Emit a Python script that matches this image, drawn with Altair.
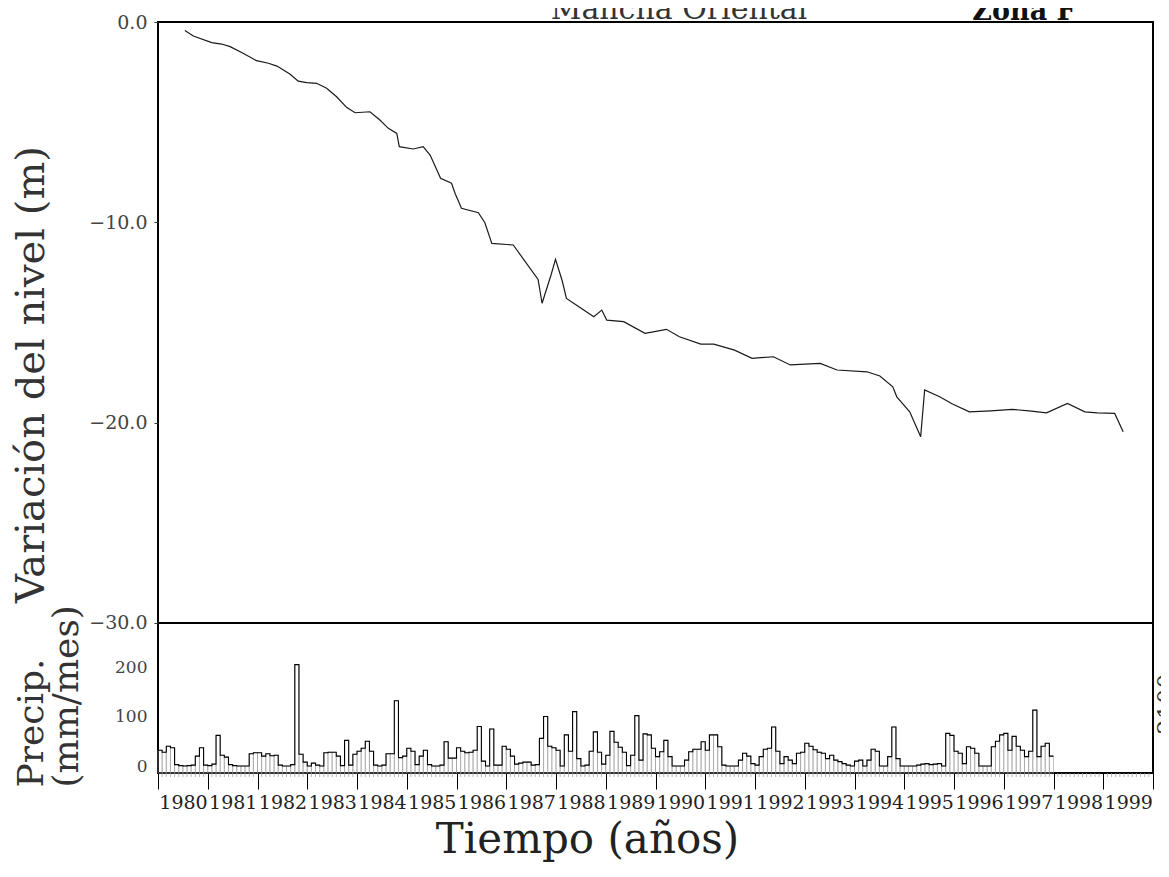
import altair as alt
import pandas as pd

# ---------------- data ----------------
# Water-level variation (m), fractional year
nivel_t = [1980.54, 1980.71, 1981.08, 1981.28, 1981.45, 1981.71, 1981.98, 1982.22, 1982.39,
           1982.65, 1982.82, 1982.99, 1983.19, 1983.39, 1983.59, 1983.79, 1983.96, 1984.26,
           1984.46, 1984.63, 1984.80, 1984.85, 1985.13, 1985.33, 1985.47, 1985.68, 1985.90,
           1985.97, 1986.10, 1986.44, 1986.57, 1986.71, 1987.14, 1987.64, 1987.72, 1987.90,
           1987.99, 1988.12, 1988.21, 1988.46, 1988.76, 1988.92, 1989.02, 1989.36, 1989.79,
           1990.22, 1990.48, 1990.91, 1991.17, 1991.59, 1991.94, 1992.37, 1992.71, 1993.31,
           1993.65, 1994.25, 1994.51, 1994.77, 1994.85, 1995.11, 1995.33, 1995.41, 1995.71,
           1995.97, 1996.31, 1996.74, 1997.17, 1997.51, 1997.86, 1998.28, 1998.63, 1998.88,
           1999.23, 1999.40]
nivel_v = [-0.43, -0.70, -1.03, -1.10, -1.23, -1.56, -1.93, -2.06, -2.20,
           -2.60, -2.95, -3.03, -3.06, -3.31, -3.73, -4.26, -4.53, -4.48,
           -4.89, -5.31, -5.56, -6.22, -6.34, -6.22, -6.64, -7.80, -8.05,
           -8.55, -9.30, -9.52, -10.02, -11.05, -11.13, -12.85, -14.04, -12.63,
           -11.85, -12.88, -13.80, -14.21, -14.71, -14.38, -14.88, -14.96, -15.54,
           -15.34, -15.71, -16.08, -16.08, -16.38, -16.79, -16.71, -17.12, -17.04,
           -17.37, -17.46, -17.67, -18.21, -18.71, -19.46, -20.70, -18.37, -18.71,
           -19.07, -19.46, -19.41, -19.34, -19.41, -19.51, -19.04, -19.46, -19.51,
           -19.54, -20.45]

# Monthly precipitation (mm/mes), Jan..Dec
p1980 = [32, 28, 40, 37, 3, 1, 0, 1, 2, 20, 37, 2]
p1981 = [1, 4, 62, 22, 18, 3, 1, 0, 0, 0, 25, 27]
p1982 = [27, 20, 25, 21, 22, 2, 0, 0, 3, 205, 24, 8]
p1983 = [0, 6, 2, 0, 27, 28, 28, 20, 1, 52, 2, 24]
p1984 = [30, 36, 50, 30, 2, 0, 2, 25, 25, 132, 17, 20]
p1985 = [36, 30, 3, 20, 32, 3, 0, 0, 2, 49, 16, 16]
p1986 = [37, 30, 27, 28, 32, 80, 10, 0, 75, 2, 2, 40]
p1987 = [34, 20, 4, 6, 8, 8, 2, 3, 56, 100, 40, 37]
p1988 = [32, 0, 63, 30, 110, 15, 0, 2, 30, 69, 28, 4]
p1989 = [22, 70, 48, 38, 28, 1, 22, 102, 12, 65, 63, 36]
p1990 = [19, 29, 52, 19, 0, 0, 0, 12, 29, 34, 34, 49]
p1991 = [32, 63, 63, 39, 2, 0, 0, 0, 12, 26, 20, 5]
p1992 = [2, 19, 34, 36, 79, 30, 5, 19, 12, 5, 26, 28]
p1993 = [46, 40, 33, 28, 26, 15, 22, 12, 9, 5, 2, 0]
p1994 = [10, 12, 0, 12, 34, 30, 0, 0, 19, 79, 15, 0]
p1995 = [0, 0, 0, 2, 4, 5, 3, 4, 5, 0, 66, 62]
p1996 = [30, 26, 5, 39, 36, 26, 0, 0, 0, 39, 50, 63]
p1997 = [66, 32, 60, 40, 32, 19, 30, 113, 19, 40, 46, 20]

precip_years = list(range(1980, 1998))
precip_lists = [p1980, p1981, p1982, p1983, p1984, p1985, p1986, p1987, p1988,
                p1989, p1990, p1991, p1992, p1993, p1994, p1995, p1996, p1997]

year_ticks = list(range(1980, 2001))

# ---------------- tables ----------------
rows = []
for yr, vals in zip(precip_years, precip_lists):
    for m, v in enumerate(vals):
        rows.append({"t0": yr + m / 12.0, "t1": yr + (m + 1) / 12.0, "p": v})
precip_df = pd.DataFrame(rows)
step_df = pd.concat([precip_df[["t0", "p"]],
                     pd.DataFrame([{"t0": precip_df["t1"].iloc[-1], "p": precip_df["p"].iloc[-1]}])],
                    ignore_index=True)
nivel_df = pd.DataFrame({"t": nivel_t, "nivel": nivel_v})
minor_df = pd.DataFrame({"t0": [1980 + i / 12.0 for i in range(1, 240) if i % 12]})

W, H = 995, 751
XDOM = [1980, 2000]
NIVEL_DOM = [-37.488, 0]
PREC_DOM = [-14, 1503.17]
SERIF = "DejaVu Serif"

xs = alt.Scale(domain=XDOM, nice=False, zero=False)
ys_n = alt.Scale(domain=NIVEL_DOM, nice=False, zero=False)
ys_p = alt.Scale(domain=PREC_DOM, nice=False, zero=False)

x_axis = alt.Axis(values=year_ticks, tickSize=16, tickColor="black", tickWidth=1,
                  labelExpr="datum.value < 2000 ? format(datum.value, 'd') : ''",
                  labelOffset=25, labelPadding=4, labelFont=SERIF, labelFontSize=19,
                  labelColor="#222", labelOverlap=False, labelFlush=False,
                  domain=False, grid=False,
                  title="Tiempo (años)", titleFont=SERIF, titleFontSize=42,
                  titleFontWeight="normal", titleColor="#222", titleAlign="center",
                  titleBaseline="alphabetic", titleX=429, titleY=79)

y_axis_n = alt.Axis(values=[0, -10, -20, -30], format=".1f", tickSize=4, tickColor="#333",
                    labelFont=SERIF, labelFontSize=19, labelColor="#444", labelPadding=7,
                    domain=False, grid=False,
                    title="Variación del nivel (m)", titleFont=SERIF, titleFontSize=40,
                    titleFontWeight="normal", titleColor="#333", titleAngle=270,
                    titleAlign="center", titleBaseline="alphabetic",
                    titleX=-115, titleY=352)

y_axis_p = alt.Axis(values=[0, 100, 200], orient="left", tickSize=0, labelPadding=11,
                    labelFont=SERIF, labelFontSize=17, labelColor="#444",
                    domain=False, grid=False,
                    title=["Precip.", "(mm/mes)"], titleFont=SERIF, titleFontSize=36,
                    titleFontWeight="normal", titleColor="#333", titleAngle=270,
                    titleAlign="left", titleBaseline="alphabetic", titleLineHeight=35,
                    titleX=-116, titleY=765)

# ---------------- upper panel ----------------
line = alt.Chart(nivel_df).mark_line(color="black", strokeWidth=1.2, opacity=0.9).encode(
    x=alt.X("t:Q", scale=xs, axis=x_axis),
    y=alt.Y("nivel:Q", scale=ys_n, axis=y_axis_n),
)
sep = alt.Chart(nivel_df).mark_rule(color="black", strokeWidth=1.6).encode(
    y=alt.YDatum(-30, type="quantitative", scale=ys_n, axis=y_axis_n),
)
upper = alt.layer(line, sep)

# ---------------- lower panel ----------------
bars = alt.Chart(precip_df).mark_bar(fill="white", fillOpacity=0, stroke="#9a9a9a",
                                     strokeWidth=0.6).encode(
    x=alt.X("t0:Q", scale=xs, axis=x_axis),
    x2="t1:Q",
    y=alt.Y("p:Q", scale=ys_p, axis=y_axis_p),
    y2=alt.value(H),
)
step = alt.Chart(step_df).mark_line(interpolate="step-after", color="black",
                                    strokeWidth=1.1).encode(
    x=alt.X("t0:Q", scale=xs, axis=x_axis),
    y=alt.Y("p:Q", scale=ys_p, axis=y_axis_p),
)
minor = alt.Chart(minor_df).mark_tick(color="#999", thickness=1, size=4).encode(
    x=alt.X("t0:Q", scale=xs, axis=x_axis),
    y=alt.value(H + 2),
)
lower = alt.layer(bars, step, minor)

# ---------------- annotations ----------------
lab_df = pd.DataFrame({"a": ["Mancha Oriental"], "b": ["Zona F"], "c": ["2100"]})
t1 = alt.Chart(lab_df).mark_text(font=SERIF, fontSize=30, color="#333", baseline="alphabetic",
                                 align="center").encode(
    text="a:N", x=alt.value(521), y=alt.value(-3))
t2 = alt.Chart(lab_df).mark_text(font=SERIF, fontSize=27, fontWeight="bold", color="#111",
                                 baseline="alphabetic", align="center").encode(
    text="b:N", x=alt.value(866), y=alt.value(-2))
t3 = alt.Chart(lab_df).mark_text(font=SERIF, fontSize=24, color="#333", baseline="top",
                                 align="center", angle=270).encode(
    text="c:N", x=alt.value(998), y=alt.value(682))

chart = alt.layer(upper, lower, t1, t2, t3).resolve_scale(y="independent").properties(
    width=W, height=H,
    autosize=alt.AutoSizeParams(type="none"),
    padding={"left": 150, "top": 14, "right": 8, "bottom": 90},
).configure_view(stroke="black", strokeWidth=2).configure_axis(grid=False)

chart.save("out.html", embed_options={"renderer": "svg", "actions": False})
